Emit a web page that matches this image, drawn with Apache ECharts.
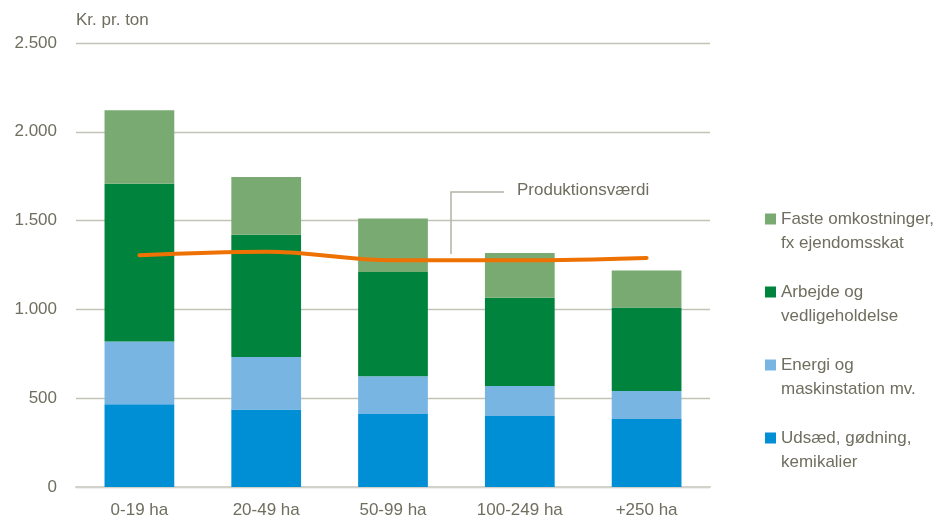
<!DOCTYPE html>
<html>
<head>
<meta charset="utf-8">
<script src="https://cdn.jsdelivr.net/npm/echarts@6/dist/echarts.min.js"></script>
<style>
  html, body { margin: 0; padding: 0; background: #fff; }
  #chart { width: 947px; height: 523px; }
</style>
</head>
<body>
<div id="chart"></div>
<script>
var categories = ["0-19 ha", "20-49 ha", "50-99 ha", "100-249 ha", "+250 ha"];
var udsaed = [466, 436, 411, 400, 383];
var energi = [353, 296, 213, 169, 158];
var arbejde = [888, 688, 587, 496, 470];
var faste = [415, 325, 301, 252, 208];
var produktion = [1305, 1325, 1277, 1277, 1290];

var textColor = "#6f6e5f";
var font = "Liberation Sans";

var chart = echarts.init(document.getElementById("chart"));

function barSeries(name, data, color) {
  return {
    name: name,
    type: "bar",
    stack: "cost",
    data: data,
    barCategoryGap: "45%",
    itemStyle: { color: color },
  };
}

chart.setOption({
  animation: false,
  textStyle: { fontFamily: font },
  grid: { left: 76, right: 237, top: 43, bottom: 36 },
  legend: {
    orient: "vertical",
    left: 765,
    top: 183,
    padding: 0,
    itemWidth: 11,
    itemHeight: 11,
    itemGap: 1,
    icon: "rect",
    data: [
      "Faste omkostninger,\nfx ejendomsskat",
      "Arbejde og\nvedligeholdelse",
      "Energi og\nmaskinstation mv.",
      "Udsæd, gødning,\nkemikalier",
    ],
    // blank first line keeps the icon level with the first text line
    formatter: function (name) {
      return " \n" + name;
    },
    textStyle: {
      color: textColor,
      fontSize: 17,
      lineHeight: 24,
      fontFamily: font,
    },
  },
  xAxis: {
    type: "category",
    data: categories,
    axisTick: { show: false },
    axisLine: { lineStyle: { color: "#d3d2ca", width: 2 } },
    axisLabel: { color: textColor, fontSize: 17, margin: 15 },
  },
  yAxis: {
    type: "value",
    min: 0,
    max: 2500,
    interval: 500,
    name: "Kr. pr. ton",
    nameLocation: "end",
    nameGap: 14,
    nameTextStyle: { color: textColor, fontSize: 17, align: "left" },
    axisLabel: {
      color: textColor,
      fontSize: 17,
      margin: 19,
      formatter: function (v) {
        return v >= 1000 ? Math.floor(v / 1000) + "." + String(v % 1000).padStart(3, "0") : String(v);
      },
    },
    splitLine: { lineStyle: { color: "#c4c2b6", width: 1.3 } },
  },
  series: [
    barSeries("Udsæd, gødning,\nkemikalier", udsaed, "#008fd5"),
    barSeries("Energi og\nmaskinstation mv.", energi, "#78b5e2"),
    barSeries("Arbejde og\nvedligeholdelse", arbejde, "#00843d"),
    barSeries("Faste omkostninger,\nfx ejendomsskat", faste, "#79aa72"),
    {
      name: "Produktionsværdi",
      type: "line",
      data: produktion,
      smooth: 0.4,
      symbol: "none",
      lineStyle: { color: "#ee7203", width: 4, cap: "round" },
      z: 5,
    },
  ],
  graphic: [
    {
      type: "polyline",
      shape: { points: [[504, 192], [451, 192], [451, 254]] },
      style: { stroke: "#b4b2a5", lineWidth: 1.5, fill: null },
      z: 10,
    },
    {
      type: "text",
      left: 517,
      top: 182,
      style: { text: "Produktionsværdi", fill: textColor, fontSize: 17, fontFamily: font },
      z: 10,
    },
  ],
});
</script>
</body>
</html>
